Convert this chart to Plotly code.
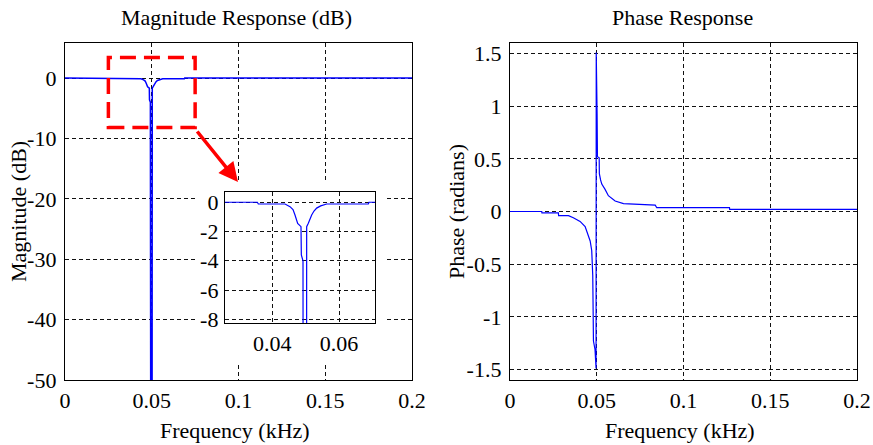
import plotly.graph_objects as go

# ---------------- data ----------------
mag_freq = [0, 0.0355, 0.0358, 0.0438, 0.0453, 0.0462, 0.0468, 0.0476, 0.0486, 0.0487,
            0.0492, 0.0494, 0.0502, 0.0503, 0.0508, 0.0512, 0.0518, 0.0525, 0.0533,
            0.0545, 0.0553, 0.0563, 0.0688, 0.0690, 0.2]
mag_db = [0, 0, -0.12, -0.12, -0.3, -0.5, -0.87, -1.44, -1.67, -3.6,
          -4.0, -55, -55, -1.67, -1.44, -1.2, -0.87, -0.6, -0.4,
          -0.25, -0.18, -0.12, -0.12, 0, 0]

ph_freq = [0, 0.0183, 0.0184, 0.0279, 0.0280, 0.0337, 0.0365, 0.0404, 0.0433, 0.0448,
           0.0462, 0.0471, 0.0477, 0.0481, 0.0490, 0.0496, 0.0497, 0.0502, 0.0504,
           0.0514, 0.0515, 0.0522, 0.0529, 0.0548, 0.0567, 0.0606, 0.0654, 0.0837,
           0.0846, 0.1265, 0.1266, 0.2]
ph_rad = [0, 0, -0.013, -0.013, -0.04, -0.04, -0.06, -0.094, -0.143, -0.21,
          -0.28, -0.37, -0.61, -1.23, -1.31, -1.49, 1.51, 0.93, 0.52,
          0.51, 0.36, 0.30, 0.26, 0.21, 0.15, 0.10, 0.075, 0.061,
          0.036, 0.036, 0.02, 0.02]

mag_ticks = [0, -10, -20, -30, -40, -50]
mag_ticktext = ["0", "-10", "-20", "-30", "-40", "-50"]
inset_yticks = [0, -2, -4, -6, -8]
inset_yticktext = ["0", "-2", "-4", "-6", "-8"]
inset_xticks = [0.04, 0.06]
inset_xticktext = ["0.04", "0.06"]
freq_ticks = [0, 0.05, 0.1, 0.15, 0.2]
freq_ticktext = ["0", "0.05", "0.1", "0.15", "0.2"]
ph_ticks = [1.5, 1, 0.5, 0, -0.5, -1, -1.5]
ph_ticktext = ["1.5", "1", "0.5", "0", "-0.5", "-1", "-1.5"]

W, H = 873, 445
FONT = "Liberation Serif"
FS = 22
BLUE = "#0000ff"


def px(xp):
    return xp / W


def py(yp):
    return 1 - yp / H


fig = go.Figure()
fig.add_trace(go.Scatter(x=mag_freq, y=mag_db, mode="lines", xaxis="x", yaxis="y",
                         line=dict(color=BLUE, width=1.5), showlegend=False, hoverinfo="skip"))
fig.add_trace(go.Scatter(x=ph_freq, y=ph_rad, mode="lines", xaxis="x2", yaxis="y2",
                         line=dict(color=BLUE, width=1.2), showlegend=False, hoverinfo="skip"))
fig.add_trace(go.Scatter(x=mag_freq, y=mag_db, mode="lines", xaxis="x3", yaxis="y3",
                         line=dict(color=BLUE, width=1.2), showlegend=False, hoverinfo="skip"))

axis_common = dict(showline=True, mirror=True, linecolor="black", linewidth=1.3,
                   showgrid=True, gridcolor="#111111", gridwidth=1, griddash="4px,3px",
                   zeroline=False, ticks="", color="black", automargin=False,
                   tickfont=dict(family=FONT, size=FS, color="black"))

fig.update_layout(
    width=W, height=H,
    margin=dict(l=0, r=0, t=0, b=0, autoexpand=False),
    paper_bgcolor="white", plot_bgcolor="white",
    font=dict(family=FONT, size=FS, color="black"),
    xaxis=dict(domain=[px(65), px(412)], range=[0, 0.2], anchor="y",
               tickvals=freq_ticks, ticktext=freq_ticktext, **axis_common),
    yaxis=dict(domain=[py(380), py(43)], range=[-50, 5.8], anchor="x",
               tickvals=mag_ticks, ticktext=mag_ticktext, ticklabelstandoff=3, **axis_common),
    xaxis2=dict(domain=[px(510), px(857)], range=[0, 0.2], anchor="y2",
                tickvals=freq_ticks, ticktext=freq_ticktext, **axis_common),
    yaxis2=dict(domain=[py(380), py(43)], range=[-1.6, 1.6], anchor="x2",
                tickvals=ph_ticks, ticktext=ph_ticktext, ticklabelstandoff=3, **axis_common),
    xaxis3=dict(domain=[px(225), px(375)], range=[0.0258, 0.0708], anchor="y3",
                tickvals=inset_xticks, ticktext=inset_xticktext, **axis_common),
    yaxis3=dict(domain=[py(323), py(192)], range=[-8.25, 0.7], anchor="x3",
                tickvals=inset_yticks, ticktext=inset_yticktext, ticklabelstandoff=1, **axis_common),
)

shapes = [
    # white backing of the inset axes (covers main grid)
    dict(type="rect", xref="x", yref="y", x0=0.0751, x1=0.185, y0=-47.0, y1=-17.2,
         fillcolor="white", line=dict(width=0), layer="between"),
    # red dashed zoom box
    dict(type="rect", xref="x", yref="y", x0=0.025, x1=0.075, y0=-8.2, y1=3.4,
         line=dict(color="red", width=3.5, dash="16px,8px"), layer="above"),
]
fig.update_layout(shapes=shapes)

annotations = [
    dict(text="Magnitude Response (dB)", x=px(237), y=py(17), xref="paper", yref="paper",
         showarrow=False, xanchor="center", yanchor="middle", font=dict(size=FS)),
    dict(text="Phase Response", x=px(682), y=py(17), xref="paper", yref="paper",
         showarrow=False, xanchor="center", yanchor="middle", font=dict(size=FS)),
    dict(text="Frequency (kHz)", x=px(235), y=py(430), xref="paper", yref="paper",
         showarrow=False, xanchor="center", yanchor="middle", font=dict(size=FS)),
    dict(text="Frequency (kHz)", x=px(680), y=py(430), xref="paper", yref="paper",
         showarrow=False, xanchor="center", yanchor="middle", font=dict(size=FS)),
    dict(text="Magnitude (dB)", x=px(18), y=py(212), xref="paper", yref="paper",
         showarrow=False, xanchor="center", yanchor="middle", textangle=-90, font=dict(size=FS)),
    dict(text="Phase (radians)", x=px(456), y=py(212), xref="paper", yref="paper",
         showarrow=False, xanchor="center", yanchor="middle", textangle=-90, font=dict(size=FS)),
    # red arrow from zoom box to inset
    dict(text="", x=px(238), y=py(182), xref="paper", yref="paper",
         showarrow=True, ax=-42, ay=-52, arrowcolor="red", arrowwidth=3.5,
         arrowhead=2, arrowsize=1.1, standoff=0, startstandoff=0),
]
fig.update_layout(annotations=annotations)

fig.write_html("out.html")
